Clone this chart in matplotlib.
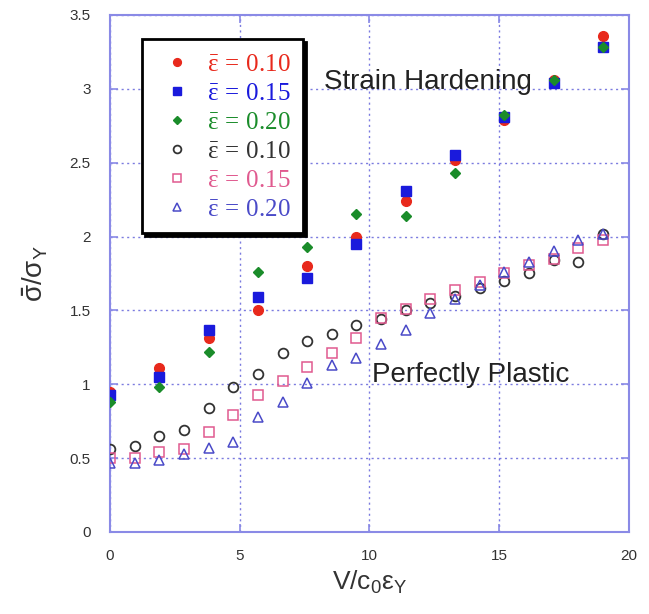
import matplotlib
matplotlib.use("Agg")
import matplotlib.pyplot as plt

plt.rcParams['mathtext.fontset'] = 'custom'
plt.rcParams['mathtext.rm'] = 'Liberation Serif'
plt.rcParams['mathtext.it'] = 'Liberation Serif'
plt.rcParams['mathtext.bf'] = 'Liberation Serif:bold'
plt.rcParams['font.family'] = ['Liberation Sans', 'DejaVu Sans']

# Strain hardening data (filled markers)
x_sh = [0, 1.9, 3.8, 5.7, 7.6, 9.5, 11.4, 13.3, 15.2, 17.1, 19.0]
sh_010 = [0.95, 1.11, 1.31, 1.50, 1.80, 2.00, 2.24, 2.52, 2.79, 3.06, 3.36]
sh_015 = [0.93, 1.05, 1.37, 1.59, 1.72, 1.95, 2.31, 2.55, 2.81, 3.04, 3.28]
sh_020 = [0.88, 0.98, 1.22, 1.76, 1.93, 2.15, 2.14, 2.43, 2.82, 3.06, 3.28]

# Perfectly plastic data (open markers)
x_pp = [0, 0.95, 1.9, 2.85, 3.8, 4.75, 5.7, 6.65, 7.6, 8.55, 9.5,
        10.45, 11.4, 12.35, 13.3, 14.25, 15.2, 16.15, 17.1, 18.05, 19.0]
pp_010 = [0.56, 0.58, 0.65, 0.69, 0.84, 0.98, 1.07, 1.21, 1.29, 1.34, 1.40,
          1.44, 1.50, 1.55, 1.60, 1.65, 1.70, 1.75, 1.84, 1.83, 2.02]
pp_015 = [0.50, 0.50, 0.54, 0.56, 0.68, 0.79, 0.93, 1.02, 1.12, 1.21, 1.31,
          1.45, 1.51, 1.58, 1.64, 1.69, 1.75, 1.81, 1.85, 1.92, 1.98]
pp_020 = [0.465, 0.465, 0.49, 0.53, 0.567, 0.61, 0.78, 0.88, 1.01, 1.13, 1.175,
          1.27, 1.37, 1.48, 1.58, 1.67, 1.76, 1.83, 1.90, 1.98, 2.02]

labels = [r'$\bar{\varepsilon}\,=\,0.10$', r'$\bar{\varepsilon}\,=\,0.15$', r'$\bar{\varepsilon}\,=\,0.20$',
          r'$\bar{\varepsilon}\,=\,0.10$', r'$\bar{\varepsilon}\,=\,0.15$', r'$\bar{\varepsilon}\,=\,0.20$']

x_ticks = [0, 5, 10, 15, 20]
y_ticks = [0, 0.5, 1, 1.5, 2, 2.5, 3, 3.5]
y_tick_labels = ['0', '0.5', '1', '1.5', '2', '2.5', '3', '3.5']

red = '#e8291c'
blue = '#1a1adc'
green = '#1a8c2a'
black = '#333333'
pink = '#e05a8f'
tblue = '#4a4ac8'
spine_c = '#8a8ae6'
grid_c = '#5a5ad8'

fig = plt.figure(figsize=(6.49, 6.14), dpi=100)
ax = fig.add_axes([0.1695, 0.1336, 0.7995, 0.842])

ax.plot(x_sh, sh_010, 'o', color=red, ms=7, mec=red, label=labels[0], zorder=3)
ax.plot(x_sh, sh_015, 's', color=blue, ms=7, mec=blue, label=labels[1], zorder=3)
ax.plot(x_sh, sh_020, 'D', color=green, ms=5, mec=green, label=labels[2], zorder=3)
ax.plot(x_pp, pp_010, 'o', mfc='none', mec=black, ms=7, mew=1.3, label=labels[3], zorder=3)
ax.plot(x_pp, pp_015, 's', mfc='none', mec=pink, ms=7, mew=1.1, label=labels[4], zorder=3)
ax.plot(x_pp, pp_020, '^', mfc='none', mec=tblue, ms=7, mew=1.1, label=labels[5], zorder=3)

ax.set_xlim(0, 20)
ax.set_ylim(0, 3.5)
ax.set_xticks(x_ticks)
ax.set_yticks(y_ticks)
ax.set_yticklabels(y_tick_labels)
ax.grid(True, color=grid_c, linestyle=(0, (1.5, 2.5)), linewidth=1.0, alpha=0.8)
ax.set_axisbelow(True)
for s in ax.spines.values():
    s.set_color(spine_c)
    s.set_linewidth(1.5)
ax.tick_params(direction='in', length=6, color=spine_c, width=1.2,
               top=True, right=True, labelsize=11, labelcolor='#333333')
ax.tick_params(axis='y', pad=14)
ax.tick_params(axis='x', pad=12)

ax.set_xlabel(r'V/c$_{\mathregular{0}}$$\mathregular{\varepsilon}_{\mathregular{Y}}$',
              fontsize=19, color='#333333', labelpad=4, math_fontfamily='dejavusans')
ax.set_ylabel(r'$\bar{\mathregular{\sigma}}\mathregular{/\sigma}_{\mathregular{Y}}$',
              fontsize=20, color='#333333', labelpad=14, math_fontfamily='dejavusans')

ax.text(8.25, 3.0, 'Strain Hardening', fontsize=20, color='#222222', va='baseline', ha='left')
ax.text(10.08, 1.018, 'Perfectly Plastic', fontsize=20, color='#222222', va='baseline', ha='left')

leg = ax.legend(loc='upper left', bbox_to_anchor=(0.062, 0.953), fontsize=18,
                frameon=True, fancybox=False, shadow={'color': 'black', 'alpha': 1.0},
                labelspacing=0.2, handletextpad=0.3, borderpad=0.5, handlelength=1.8,
                borderaxespad=0, markerscale=0.8, framealpha=1.0)
leg.get_frame().set_edgecolor('black')
leg.get_frame().set_linewidth(2)
for t, c in zip(leg.get_texts(), [red, blue, green, black, pink, tblue]):
    t.set_color(c)

fig.savefig('out.png', dpi=100)
